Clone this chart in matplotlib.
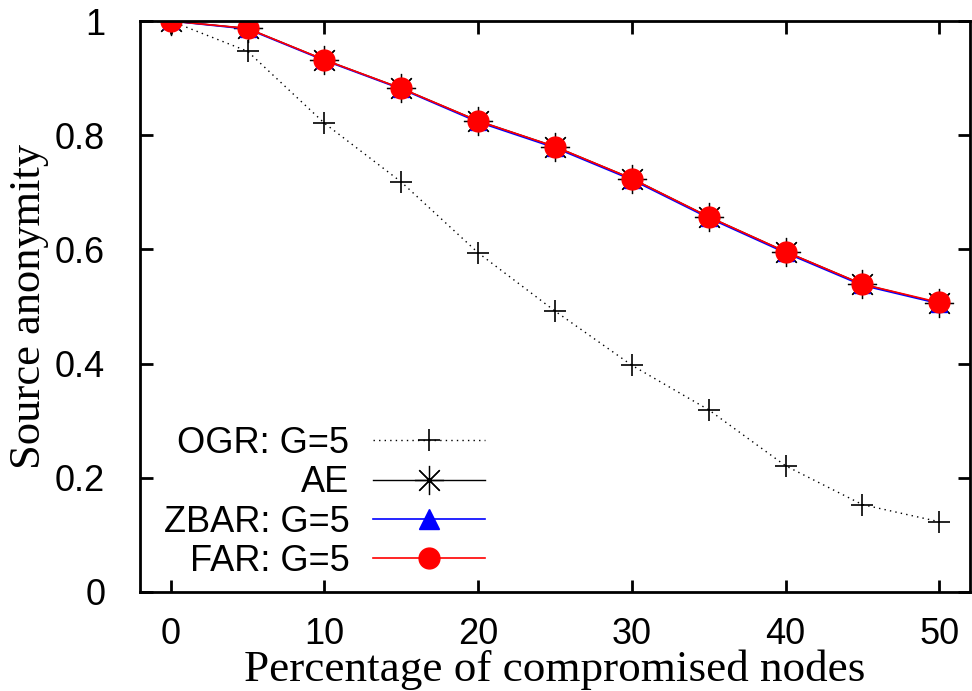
import matplotlib
matplotlib.use("Agg")
import matplotlib.pyplot as plt

# Percentage of compromised nodes
percent = [0, 5, 10, 15, 20, 25, 30, 35, 40, 45, 50]

# Source anonymity per scheme
ogr = [1.0, 0.947, 0.821, 0.718, 0.594, 0.492, 0.397, 0.319, 0.221, 0.153, 0.123]
ae = [1.0, 0.987, 0.932, 0.882, 0.825, 0.780, 0.724, 0.657, 0.596, 0.539, 0.506]
zbar = [1.0, 0.986, 0.931, 0.881, 0.823, 0.778, 0.722, 0.655, 0.594, 0.537, 0.505]
far = [1.0, 0.987, 0.932, 0.882, 0.825, 0.780, 0.724, 0.657, 0.596, 0.539, 0.507]

x_ticks = [0, 10, 20, 30, 40, 50]
y_ticks = [0, 0.2, 0.4, 0.6, 0.8, 1]
y_tick_labels = ["0", "0.2", "0.4", "0.6", "0.8", "1"]


def main():
    plt.rcParams["font.family"] = ["Liberation Sans", "DejaVu Sans"]

    fig = plt.figure(figsize=(9.72, 6.91), dpi=100)
    ax = fig.add_axes([0.144, 0.1433, 0.854, 0.8263])

    ax.plot(percent, ogr, color="black", lw=1, linestyle=(0, (1, 3)),
            marker="+", markersize=16, markeredgewidth=1.2,
            label="OGR: G=5")
    ax.plot(percent, ae, color="black", lw=1,
            marker=(8, 2, 0), markersize=21, markeredgewidth=0.9,
            label="AE")
    ax.plot(percent, zbar, color="blue", lw=1.2,
            marker="^", markersize=12, label="ZBAR: G=5")
    ax.plot(percent, far, color="red", lw=1.2,
            marker="o", markersize=15, label="FAR: G=5")

    ax.set_xlim(-2, 52)
    ax.set_ylim(0, 1)
    ax.set_xticks(x_ticks)
    ax.set_yticks(y_ticks, y_tick_labels)

    for side in ax.spines.values():
        side.set_linewidth(2)
    ax.tick_params(direction="in", length=9, width=2, labelsize=26,
                   top=True, right=True)
    ax.tick_params(axis="x", pad=18)
    ax.tick_params(axis="y", pad=25)

    ax.set_xlabel("Percentage of compromised nodes", family="Liberation Serif",
                  fontsize=32.5, labelpad=-2)
    ax.set_ylabel("Source anonymity", family="Liberation Serif",
                  fontsize=32, labelpad=4)

    leg = ax.legend(loc="lower right", bbox_to_anchor=(0.424, 0.01),
                    frameon=False, fontsize=26, markerfirst=False,
                    numpoints=1, handlelength=3.1, handletextpad=0.65,
                    labelspacing=0.12, borderpad=0.2, borderaxespad=0)
    # right-align the labels like gnuplot does
    for col in leg._legend_handle_box.get_children():
        col.align = "right"
    # triangle in the key is drawn bigger than the (hidden) ones on the curve
    leg.legend_handles[2].set_markersize(15)

    fig.savefig("out.png", dpi=100)


if __name__ == "__main__":
    main()
